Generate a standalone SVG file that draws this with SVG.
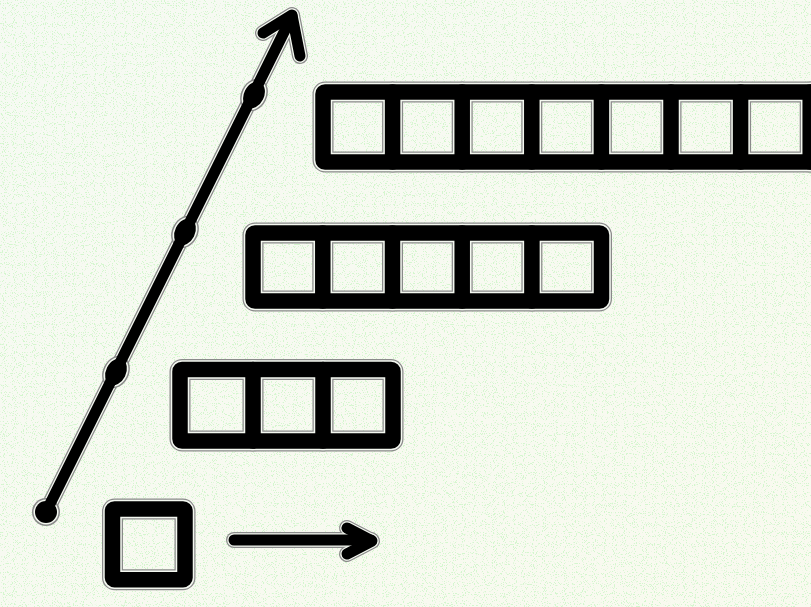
<svg xmlns="http://www.w3.org/2000/svg" width="811" height="607" viewBox="0 0 811 607">
<defs>
<style>
.halo{fill:none;stroke:#8a8a8a;stroke-linecap:round;stroke-linejoin:round}
.gap{fill:none;stroke:#f4f8f0;stroke-linecap:round;stroke-linejoin:round}
.ink{fill:none;stroke:#000;stroke-linecap:round;stroke-linejoin:round}
.cellH{stroke-width:21}
.cellG{stroke-width:18.5}
.cellI{stroke-width:15.5}
.arrH{stroke-width:16}
.arrG{stroke-width:13.5}
.arrI{stroke-width:11}
.dotH{fill:#8a8a8a}
.dotG{fill:#f4f8f0}
.dotI{fill:#000}
</style>
<linearGradient id="bg" x1="0" y1="0" x2="1" y2="1">
<stop offset="0" stop-color="#f6faf3"/>
<stop offset="1" stop-color="#f9faef"/>
</linearGradient>
<filter id="noise" x="0" y="0" width="100%" height="100%">
<feTurbulence type="fractalNoise" baseFrequency="0.9" numOctaves="1" seed="7" result="t"/>
<feColorMatrix in="t" type="matrix" values="0 0 0 0 0.66  0 0 0 0 0.92  0 0 0 0 0.62  16 0 0 0 -9.3"/>
</filter>
<g id="row7shape">
<rect x="323" y="92" width="600" height="70" rx="2"/>
<path d="M392.6 92V162M462.2 92V162M531.8 92V162M601.4 92V162M671 92V162M740.6 92V162M810.2 92V162"/>
</g>
<g id="row5shape">
<rect x="253" y="233" width="348.5" height="68" rx="2"/>
<path d="M322.8 233V301M392.5 233V301M462.2 233V301M531.9 233V301"/>
</g>
<g id="row3shape">
<rect x="180" y="369.5" width="213" height="71.5" rx="2"/>
<path d="M253 369.5V441M323 369.5V441"/>
</g>
<g id="row1shape">
<rect x="112.5" y="509" width="72.5" height="70.7" rx="2"/>
</g>
<g id="bigArrowShape">
<path d="M46 512L292 16"/>
<path d="M263 33L292 15L300 56"/>
</g>
<g id="smallArrowShape">
<path d="M234 540H371"/>
<path d="M347 528L372 541L347 554"/>
</g>
</defs>
<rect width="811" height="607" fill="url(#bg)"/>
<rect width="811" height="607" filter="url(#noise)"/>

<g id="row-seven">
<use href="#row7shape" class="halo cellH"/>
<use href="#row7shape" class="gap cellG"/>
<use href="#row7shape" class="ink cellI"/>
</g>
<g id="row-five">
<use href="#row5shape" class="halo cellH"/>
<use href="#row5shape" class="gap cellG"/>
<use href="#row5shape" class="ink cellI"/>
</g>
<g id="row-three">
<use href="#row3shape" class="halo cellH"/>
<use href="#row3shape" class="gap cellG"/>
<use href="#row3shape" class="ink cellI"/>
</g>
<g id="row-one">
<use href="#row1shape" class="halo cellH"/>
<use href="#row1shape" class="gap cellG"/>
<use href="#row1shape" class="ink cellI"/>
</g>

<g id="connectors">
<g id="growth-arrow">
<use href="#bigArrowShape" class="halo arrH"/>
<use href="#bigArrowShape" class="gap arrG"/>
<circle cx="46" cy="512" r="14" class="dotH"/>
<circle cx="46" cy="512" r="12.5" class="dotG"/>
<g transform="rotate(26.4 116 372)"><ellipse cx="116" cy="372" rx="13" ry="17" class="dotH"/><ellipse cx="116" cy="372" rx="11.5" ry="15.5" class="dotG"/></g>
<g transform="rotate(26.4 185 232)"><ellipse cx="185" cy="232" rx="13" ry="17" class="dotH"/><ellipse cx="185" cy="232" rx="11.5" ry="15.5" class="dotG"/></g>
<g transform="rotate(26.4 254 95)"><ellipse cx="254" cy="95" rx="13" ry="17" class="dotH"/><ellipse cx="254" cy="95" rx="11.5" ry="15.5" class="dotG"/></g>
<use href="#bigArrowShape" class="ink arrI"/>
<circle cx="46" cy="512" r="11" class="dotI"/>
<ellipse cx="116" cy="372" rx="10" ry="14" class="dotI" transform="rotate(26.4 116 372)"/>
<ellipse cx="185" cy="232" rx="10" ry="14" class="dotI" transform="rotate(26.4 185 232)"/>
<ellipse cx="254" cy="95" rx="10" ry="14" class="dotI" transform="rotate(26.4 254 95)"/>
</g>
<g id="extend-arrow">
<use href="#smallArrowShape" class="halo arrH"/>
<use href="#smallArrowShape" class="gap arrG"/>
<use href="#smallArrowShape" class="ink arrI"/>
</g>
</g>
</svg>
